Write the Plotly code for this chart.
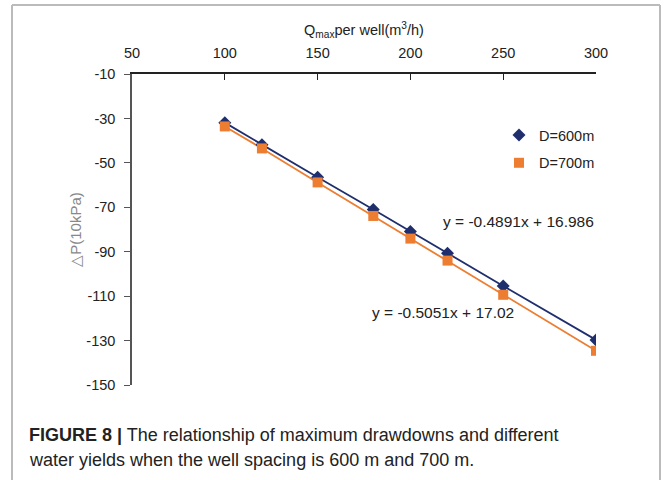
import plotly.graph_objects as go

q_per_well = [100, 120, 150, 180, 200, 220, 250, 300]
dp_600 = [-31.9, -41.8, -56.5, -71.0, -80.9, -90.7, -105.4, -129.7]
dp_700 = [-33.6, -43.5, -58.8, -73.9, -84.1, -94.0, -109.4, -134.6]
x_ticks = [50, 100, 150, 200, 250, 300]
y_ticks = [-10, -30, -50, -70, -90, -110, -130, -150]
eq_600 = "y = -0.4891x + 16.986"
eq_700 = "y = -0.5051x + 17.02"

BLUE = "#1F2F6E"
ORANGE = "#ED7D31"

fig = go.Figure()
# trend lines (not in legend)
fig.add_trace(go.Scatter(x=q_per_well, y=dp_600, mode="lines", showlegend=False,
                         line=dict(color=BLUE, width=1.8), hoverinfo="skip"))
fig.add_trace(go.Scatter(x=q_per_well, y=dp_700, mode="lines", showlegend=False,
                         line=dict(color=ORANGE, width=1.8), hoverinfo="skip"))
# markers
fig.add_trace(go.Scatter(
    x=q_per_well, y=dp_600, mode="markers", name="D=600m",
    marker=dict(symbol="diamond", size=10, color=BLUE), legendgroup="a"))
fig.add_trace(go.Scatter(
    x=q_per_well, y=dp_700, mode="markers", name="D=700m",
    marker=dict(symbol="square", size=10, color=ORANGE), legendgroup="b"))

eq_font = dict(size=15.5, color="#222222", family="Liberation Sans, Arial")
fig.add_annotation(x=258, y=-76.5, text=eq_600, showarrow=False, font=eq_font)
fig.add_annotation(x=217.6, y=-117.5, text=eq_700, showarrow=False, font=eq_font)

# outer frame
L = (12 - 132) / 464
R = (660 - 132) / 464
T = (385 - 5) / 311
B = (385 - 482) / 311
for x0, y0, x1, y1 in [(L, T, L, B), (L, T, R, T), (R, T, R, B)]:
    fig.add_shape(type="line", xref="paper", yref="paper", x0=x0, y0=y0, x1=x1, y1=y1,
                  line=dict(color="#BBBBBB", width=2))

cap_font = dict(size=18, color="#222222", family="Liberation Sans, Arial")
fig.add_annotation(xref="paper", yref="paper", x=(27 - 132) / 464, y=(385 - 435) / 311,
                   xanchor="left", yanchor="middle", showarrow=False, align="left",
                   text="<b>FIGURE 8 |</b> The relationship of maximum drawdowns and different",
                   font=cap_font)
fig.add_annotation(xref="paper", yref="paper", x=(27 - 132) / 464, y=(385 - 460) / 311,
                   xanchor="left", yanchor="middle", showarrow=False, align="left",
                   text="water yields when the well spacing is 600 m and 700 m.",
                   font=cap_font)

fig.update_layout(
    width=664, height=480,
    margin=dict(l=132, r=68, t=74, b=95),
    paper_bgcolor="white", plot_bgcolor="white",
    font=dict(family="Liberation Sans, Arial", size=14, color="#111111"),
    showlegend=True,
    legend=dict(x=(499 - 132) / 464, y=(385 - 119) / 311, xanchor="left", yanchor="top",
                bgcolor="rgba(0,0,0,0)", font=dict(size=14.5, color="#222222"),
                tracegroupgap=6, itemwidth=30),
    xaxis=dict(
        side="top", range=[50, 300], tickvals=x_ticks, ticktext=[str(v) for v in x_ticks],
        showgrid=False, zeroline=False, showline=True, linecolor="#222222", linewidth=1.5,
        ticks="inside", ticklen=6, tickcolor="#222222", ticklabelstandoff=8,
        title=dict(text="Q<sub>max</sub>per well(m<sup>3</sup>/h)", standoff=6,
                   font=dict(size=14.5, color="#222222")),
        tickfont=dict(size=14.5, color="#222222"),
    ),
    yaxis=dict(
        range=[-150, -10], tickvals=y_ticks, ticktext=[str(v) for v in y_ticks],
        showgrid=False, zeroline=False, showline=True, linecolor="#555555", linewidth=1.5,
        ticks="outside", ticklen=6, tickcolor="#555555", ticklabelstandoff=6,
        title=dict(text="△P(10kPa)", standoff=1, font=dict(size=15, color="#888888")),
        tickfont=dict(size=14.5, color="#222222"),
    ),
)

fig.write_html("out.html", config={"displayModeBar": False},
               post_script="document.body.style.margin='0';")
